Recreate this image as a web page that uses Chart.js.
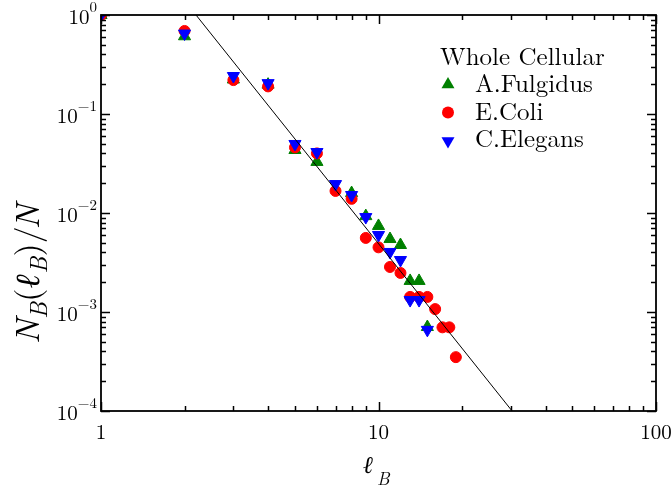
<!DOCTYPE html>
<html>
<head>
<meta charset="utf-8">
<script src="https://cdn.jsdelivr.net/npm/chart.js@4.4.1/dist/chart.umd.min.js"></script>
<style>
  html, body { margin: 0; padding: 0; background: #fff; }
</style>
</head>
<body>
<canvas id="grafico" width="672" height="488"></canvas>
<script>
// Tamanho da caixa ℓ_B e fração N_B(ℓ_B)/N de cada organismo
const fulgidusL = [1, 2, 3, 4, 5, 6, 8, 9, 10, 11, 12, 13, 14, 15];
const fulgidusN = [1, 0.61, 0.223, 0.198, 0.0433, 0.0328, 0.0159, 0.0093, 0.0074, 0.00546, 0.00475, 0.00206, 0.00206, 0.000705];

const coliL = [1, 2, 3, 4, 5, 6, 7, 8, 9, 10, 11, 12, 13, 14, 15, 16, 17, 18, 19];
const coliN = [1, 0.69, 0.22, 0.19, 0.046, 0.040, 0.0167, 0.0139, 0.0056, 0.0045, 0.00285, 0.00248, 0.00142, 0.00142, 0.00142, 0.00107, 0.0007, 0.0007, 0.00035];

const elegansL = [1, 2, 3, 4, 5, 6, 7, 8, 9, 10, 11, 12, 13, 14, 15];
const elegansN = [1, 0.65, 0.242, 0.205, 0.0498, 0.0413, 0.0196, 0.0152, 0.0091, 0.0060, 0.00404, 0.00335, 0.00132, 0.00132, 0.00066];

// Reta da lei de potência (extremos)
const retaL = [2.2, 30.3];
const retaN = [1, 0.0001];

// Rótulos dos eixos
const xTicks = [1, 10, 100];
const xTickLabels = ['1', '10', '100'];
const yTicks = [1, 0.1, 0.01, 0.001, 0.0001];
const yExpoentes = ['0', '\u22121', '\u22122', '\u22123', '\u22124'];

const legendaTitulo = 'Whole Cellular';
const series = ['A.Fulgidus', 'E.Coli', 'C.Elegans'];
const cores = ['#008000', '#ff0000', '#0000ff'];

const SERIF = '"Latin Modern Roman"';

function pares(xs, ys) {
  return xs.map((x, i) => ({ x: x, y: ys[i] }));
}

// Desenha um marcador igual aos do gráfico (usado na legenda)
function marcador(ctx, tipo, cx, cy, r, cor) {
  ctx.fillStyle = cor;
  ctx.beginPath();
  if (tipo === 'circle') {
    ctx.arc(cx, cy, r, 0, Math.PI * 2);
  } else {
    const s = tipo === 'up' ? 1 : -1;
    ctx.moveTo(cx, cy - s * r);
    ctx.lineTo(cx + 0.866 * r, cy + s * 0.5 * r);
    ctx.lineTo(cx - 0.866 * r, cy + s * 0.5 * r);
  }
  ctx.closePath();
  ctx.fill();
}

// Escreve uma sequência de trechos (normal / itálico / subscrito)
function escreverTrechos(ctx, trechos, x, y) {
  let px = x;
  trechos.forEach(t => {
    ctx.font = (t.italic ? 'italic ' : '') + t.size + 'px ' + SERIF;
    ctx.fillText(t.txt, px, y + (t.dy || 0));
    px += ctx.measureText(t.txt).width + (t.gap || 0);
  });
}

function larguraTrechos(ctx, trechos) {
  let w = 0;
  trechos.forEach(t => {
    ctx.font = (t.italic ? 'italic ' : '') + t.size + 'px ' + SERIF;
    w += ctx.measureText(t.txt).width + (t.gap || 0);
  });
  return w;
}

const moldura = {
  id: 'moldura',
  afterDraw(chart) {
    const ctx = chart.ctx;
    const a = chart.chartArea;
    const sx = chart.scales.x;
    const sy = chart.scales.y;

    ctx.save();
    ctx.strokeStyle = '#000';
    ctx.lineWidth = 1.5;

    // marcas para dentro nos quatro lados
    ctx.beginPath();
    for (let d = 0; d < 2; d++) {
      for (let m = 1; m <= 10; m++) {
        const v = m * Math.pow(10, d);
        const px = Math.round(sx.getPixelForValue(v)) + 0.5;
        const len = (m === 1 || m === 10) ? 9 : 5;
        ctx.moveTo(px, a.bottom); ctx.lineTo(px, a.bottom - len);
        ctx.moveTo(px, a.top); ctx.lineTo(px, a.top + len);
      }
    }
    for (let d = -4; d < 0; d++) {
      for (let m = 1; m <= 10; m++) {
        const v = m * Math.pow(10, d);
        const py = Math.round(sy.getPixelForValue(v)) + 0.5;
        const len = (m === 1 || m === 10) ? 9 : 5;
        ctx.moveTo(a.left, py); ctx.lineTo(a.left + len, py);
        ctx.moveTo(a.right, py); ctx.lineTo(a.right - len, py);
      }
    }
    ctx.stroke();

    ctx.lineWidth = 1.8;
    ctx.strokeRect(a.left, a.top, a.right - a.left, a.bottom - a.top);

    ctx.fillStyle = '#000';

    // rótulos do eixo x
    ctx.font = '21px ' + SERIF;
    ctx.textAlign = 'center';
    ctx.textBaseline = 'alphabetic';
    xTicks.forEach((v, i) => {
      ctx.fillText(xTickLabels[i], sx.getPixelForValue(v), 439);
    });

    // rótulos do eixo y: 10 com expoente
    ctx.textAlign = 'right';
    yTicks.forEach((v, i) => {
      const py = sy.getPixelForValue(v);
      ctx.font = '15px ' + SERIF;
      const wExp = ctx.measureText(yExpoentes[i]).width;
      ctx.fillText(yExpoentes[i], 97, py - 3);
      ctx.font = '21px ' + SERIF;
      ctx.fillText('10', 97 - wExp, py + 9);
    });

    // título do eixo x: ℓ_B
    ctx.textAlign = 'left';
    escreverTrechos(ctx, [
      { txt: '\u2113', size: 24, italic: true, gap: 4 },
      { txt: 'B', size: 18, italic: true, dy: 12 }
    ], 363, 473);

    // título do eixo y: N_B(ℓ_B)/N
    const tituloY = [
      { txt: 'N', size: 34, italic: true, gap: 0 },
      { txt: 'B', size: 24, italic: true, dy: 8 },
      { txt: '(', size: 34 },
      { txt: '\u2113', size: 34, italic: true, gap: 1 },
      { txt: 'B', size: 24, italic: true, dy: 8 },
      { txt: ')', size: 34 },
      { txt: '/', size: 34, gap: -3 },
      { txt: 'N', size: 34, italic: true }
    ];
    const wY = larguraTrechos(ctx, tituloY);
    ctx.save();
    ctx.translate(39, 274);
    ctx.rotate(-Math.PI / 2);
    escreverTrechos(ctx, tituloY, -wY / 2, 0);
    ctx.restore();

    // legenda dentro da área do gráfico
    ctx.font = '25px ' + SERIF;
    ctx.fillStyle = '#000';
    ctx.fillText(legendaTitulo, 440, 65);
    const tipos = ['up', 'circle', 'down'];
    const baseY = [92, 120, 147];
    const centroY = [84.5, 112.5, 141];
    series.forEach((nome, i) => {
      marcador(ctx, tipos[i], 448, centroY[i], tipos[i] === 'circle' ? 6 : 7.5, cores[i]);
      ctx.fillStyle = '#000';
      ctx.fillText(nome, 475, baseY[i]);
    });
    ctx.restore();
  }
};

const ctx = document.getElementById('grafico').getContext('2d');

new Chart(ctx, {
  type: 'scatter',
  data: {
    datasets: [
      {
        label: 'ajuste',
        data: pares(retaL, retaN),
        showLine: true,
        borderColor: '#000',
        borderWidth: 1,
        pointRadius: 0,
        clip: 0
      },
      {
        label: series[2],
        data: pares(elegansL, elegansN),
        pointStyle: 'triangle',
        rotation: 180,
        pointRadius: 7,
        pointBorderWidth: 1,
        backgroundColor: cores[2],
        borderColor: cores[2],
        clip: 0
      },
      {
        label: series[1],
        data: pares(coliL, coliN),
        pointStyle: 'circle',
        pointRadius: 5.5,
        pointBorderWidth: 1,
        backgroundColor: cores[1],
        borderColor: cores[1],
        clip: 0
      },
      {
        label: series[0],
        data: pares(fulgidusL, fulgidusN),
        pointStyle: 'triangle',
        pointRadius: 7,
        pointBorderWidth: 1,
        backgroundColor: cores[0],
        borderColor: cores[0],
        clip: 0
      }
    ]
  },
  options: {
    responsive: false,
    animation: false,
    devicePixelRatio: 1,
    events: [],
    layout: {
      padding: { left: 101, right: 16, top: 15, bottom: 77 }
    },
    scales: {
      x: { type: 'logarithmic', min: 1, max: 100, display: false },
      y: { type: 'logarithmic', min: 0.0001, max: 1, display: false }
    },
    plugins: {
      legend: { display: false },
      tooltip: { enabled: false }
    }
  },
  plugins: [moldura]
});
</script>
</body>
</html>
